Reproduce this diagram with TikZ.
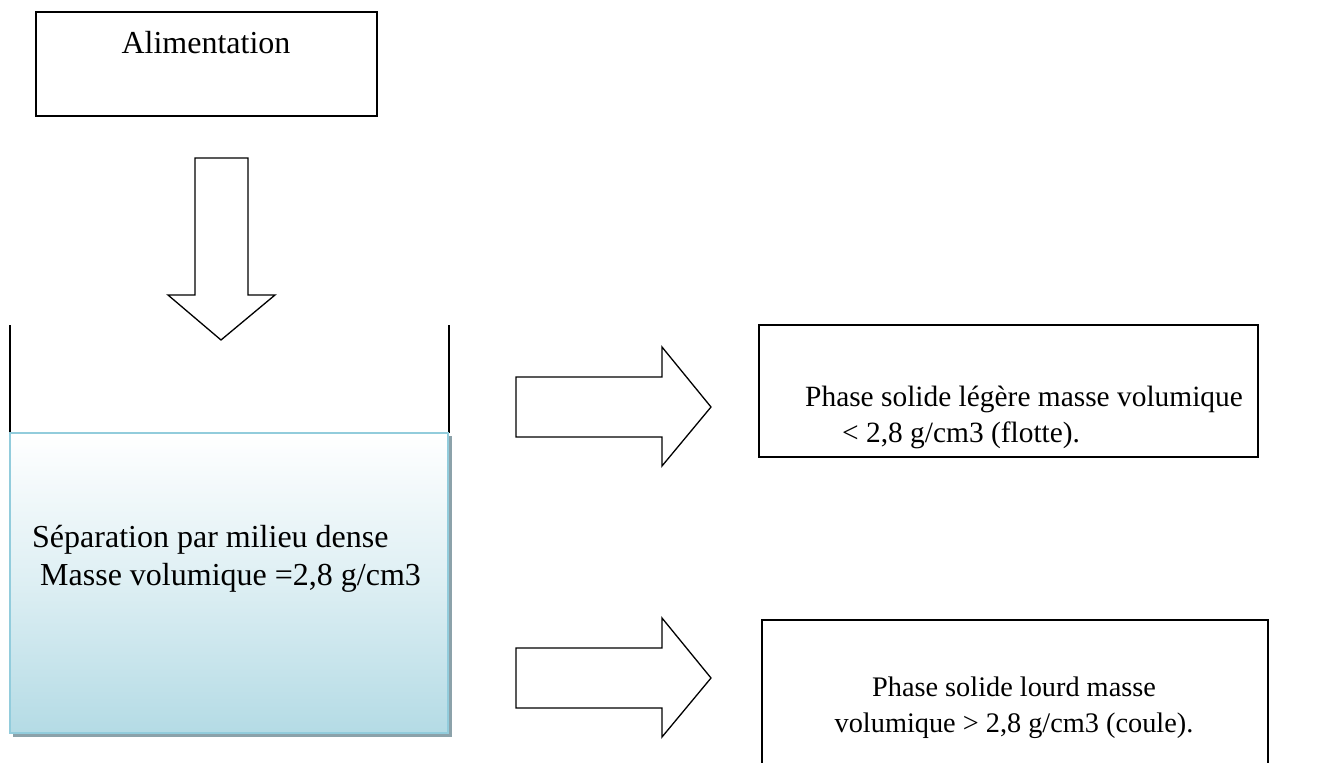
\documentclass[tikz,border=0pt]{standalone}
\usepackage{fontspec}
\setmainfont{Liberation Serif}
\definecolor{tankborder}{RGB}{146,204,220}
\definecolor{tankbottom}{RGB}{180,219,229}
\definecolor{shadowc}{RGB}{140,162,170}
\begin{document}
\begin{tikzpicture}[x=1pt,y=-1pt,line join=miter,
  box/.style={draw=black,line width=1.3pt,inner sep=0pt,fill=white},
  blockarrow/.style={draw=black,line width=1.3pt,fill=white},
  wall/.style={draw=black,line width=1.3pt},
  txt/.style={font=\fontsize{32}{38}\selectfont,inner sep=0pt,anchor=base west},
  ctxt/.style={txt,anchor=base},
  txta/.style={font=\fontsize{29.4}{36}\selectfont,inner sep=0pt,anchor=base west},
  txtb/.style={font=\fontsize{28.3}{36}\selectfont,inner sep=0pt,anchor=base}]
\useasboundingbox (0,0) rectangle (1344,763);
% feed box
\node[box,minimum width=341pt,minimum height=104pt] (alim) at (206.5,64) {};
\node[ctxt] (alimtxt) at (206,53) {Alimentation};
% down arrow
\draw[blockarrow] (195,158) -- (248,158) -- (248,295) -- (275,295) -- (221,340) -- (168,295) -- (195,295) -- cycle;
% tank walls
\draw[wall] (10,325) -- (10,433);
\draw[wall] (449,325) -- (449,433);
% liquid with shadow
\fill[shadowc] (13,436) rectangle (452,737);
\node[draw=tankborder,line width=1.5pt,minimum width=438pt,minimum height=300pt,inner sep=0pt,
  top color=white,bottom color=tankbottom,middle color=white!55!tankbottom] (tank) at (229,583) {};
\node[txt] (tank1) at (32,547) {Séparation par milieu dense};
\node[txt] (tank2) at (40,585) {Masse volumique =2,8 g/cm3};
% right arrows
\draw[blockarrow] (516,377) -- (662,377) -- (662,347) -- (711,407) -- (662,466) -- (662,437) -- (516,437) -- cycle;
\draw[blockarrow] (516,648) -- (662,648) -- (662,618) -- (711,678) -- (662,737) -- (662,708) -- (516,708) -- cycle;
% output boxes
\node[box,minimum width=499pt,minimum height=132pt] (light) at (1008.5,391) {};
\node[txta] (light1) at (805,406) {Phase solide légère masse volumique};
\node[txta] (light2) at (842,442) {< 2,8 g/cm3 (flotte).};
\node[box,minimum width=506pt,minimum height=180pt] (heavy) at (1015,710) {};
\node[txtb] (heavy1) at (1014,696) {Phase solide lourd masse};
\node[txtb] (heavy2) at (1014,732) {volumique > 2,8 g/cm3 (coule).};
\end{tikzpicture}
\end{document}
